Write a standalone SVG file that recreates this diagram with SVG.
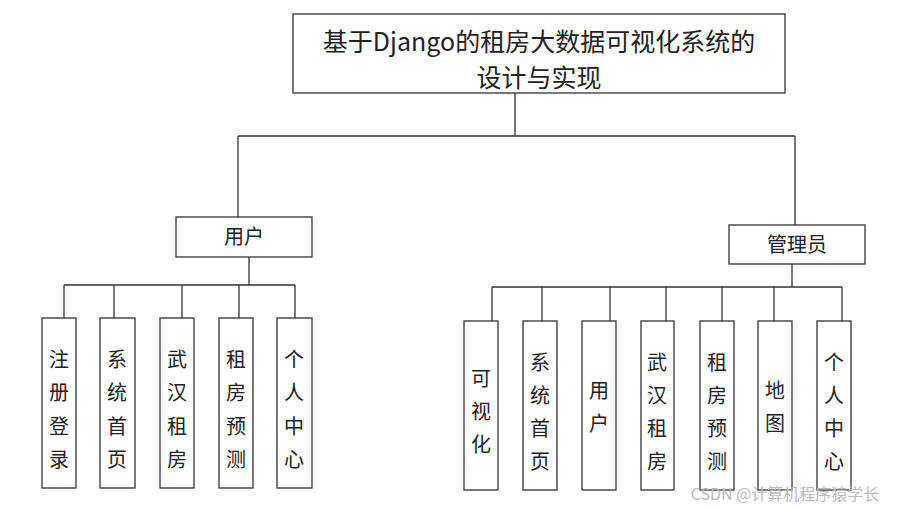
<svg xmlns="http://www.w3.org/2000/svg" width="906" height="509" viewBox="0 0 906 509">
<style>
rect{fill:#fff;stroke:#333;stroke-width:1.3}
#connectors path{fill:none;stroke:#333;stroke-width:1.3}
text{font-family:"Noto Sans CJK SC","Liberation Serif",serif;fill:#222;text-anchor:middle}
.t{font-size:25px}.m{font-size:20px}.v{font-size:20px}
</style>
<rect width="906" height="509" style="fill:#fff;stroke:none"/>
<g id="connectors">
<path d="M515 93V136M238 136H795M238 136V217M795 136V225"/>
<path d="M249 257V285M64 285H295M64 285V318M114 285V318M182 285V318M239 285V318M295 285V318"/>
<path d="M792 264V287M492 287H842M492 287V321M542 287V321M610 287V321M666 287V321M722 287V321M774 287V321M842 287V321"/>
</g>
<g id="root"><rect x="293" y="14" width="492" height="79"/><text class="t" x="539" y="51">基于Django的租房大数据可视化系统的</text><text class="t" x="539" y="87">设计与实现</text></g>
<g id="user"><rect x="176" y="217" width="136" height="40"/><text class="m" x="244" y="244">用户</text></g>
<g id="admin"><rect x="729" y="225" width="136" height="39"/><text class="m" x="797" y="252">管理员</text></g>
<g id="u1"><rect x="42" y="318" width="34" height="170"/><text class="v" x="59"><tspan x="59" y="367">注</tspan><tspan x="59" y="400">册</tspan><tspan x="59" y="434">登</tspan><tspan x="59" y="467">录</tspan></text></g>
<g id="u2"><rect x="100" y="318" width="35" height="170"/><text class="v"><tspan x="117" y="367">系</tspan><tspan x="117" y="400">统</tspan><tspan x="117" y="434">首</tspan><tspan x="117" y="467">页</tspan></text></g>
<g id="u3"><rect x="160" y="318" width="34" height="170"/><text class="v"><tspan x="177" y="367">武</tspan><tspan x="177" y="400">汉</tspan><tspan x="177" y="434">租</tspan><tspan x="177" y="467">房</tspan></text></g>
<g id="u4"><rect x="219" y="318" width="34" height="170"/><text class="v"><tspan x="236" y="367">租</tspan><tspan x="236" y="400">房</tspan><tspan x="236" y="434">预</tspan><tspan x="236" y="467">测</tspan></text></g>
<g id="u5"><rect x="277" y="318" width="35" height="170"/><text class="v"><tspan x="294" y="367">个</tspan><tspan x="294" y="400">人</tspan><tspan x="294" y="434">中</tspan><tspan x="294" y="467">心</tspan></text></g>
<g id="a1"><rect x="464" y="321" width="34" height="169"/><text class="v"><tspan x="481" y="386">可</tspan><tspan x="481" y="419">视</tspan><tspan x="481" y="452">化</tspan></text></g>
<g id="a2"><rect x="523" y="321" width="34" height="169"/><text class="v"><tspan x="540" y="370">系</tspan><tspan x="540" y="403">统</tspan><tspan x="540" y="436">首</tspan><tspan x="540" y="469">页</tspan></text></g>
<g id="a3"><rect x="582" y="321" width="34" height="169"/><text class="v"><tspan x="599" y="398">用</tspan><tspan x="599" y="431">户</tspan></text></g>
<g id="a4"><rect x="641" y="321" width="33" height="169"/><text class="v"><tspan x="657" y="370">武</tspan><tspan x="657" y="403">汉</tspan><tspan x="657" y="436">租</tspan><tspan x="657" y="469">房</tspan></text></g>
<g id="a5"><rect x="700" y="321" width="34" height="169"/><text class="v"><tspan x="717" y="370">租</tspan><tspan x="717" y="403">房</tspan><tspan x="717" y="436">预</tspan><tspan x="717" y="469">测</tspan></text></g>
<g id="a6"><rect x="758" y="321" width="34" height="169"/><text class="v"><tspan x="775" y="398">地</tspan><tspan x="775" y="431">图</tspan></text></g>
<g id="a7"><rect x="817" y="321" width="34" height="169"/><text class="v"><tspan x="834" y="370">个</tspan><tspan x="834" y="403">人</tspan><tspan x="834" y="436">中</tspan><tspan x="834" y="469">心</tspan></text></g>
<text x="785" y="500" style="font-size:16px;fill:#bbb;font-family:'Noto Sans CJK SC','Liberation Sans',sans-serif">CSDN @计算机程序猿学长</text>
</svg>
